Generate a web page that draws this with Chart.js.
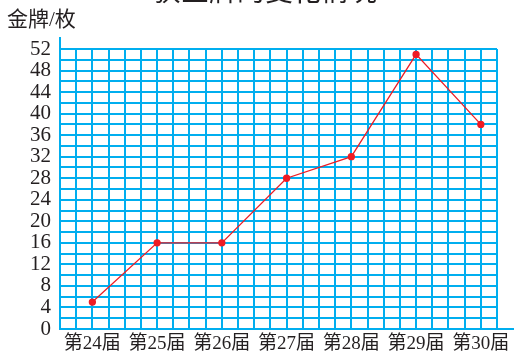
<!DOCTYPE html>
<html>
<head>
<meta charset="utf-8">
<script src="https://cdn.jsdelivr.net/npm/chart.js@4"></script>
<style>
  html, body { margin: 0; padding: 0; background: #fff; }
  #wrap { width: 514px; height: 357px; position: relative; }
</style>
</head>
<body>
<div id="wrap"><canvas id="chart"></canvas></div>
<script>
// data
const sessions = ['第24届', '第25届', '第26届', '第27届', '第28届', '第29届', '第30届'];
const golds = [5, 16, 16, 28, 32, 51, 38];
const sessionPos = [2, 6, 10, 14, 18, 22, 26]; // grid column of each session
const yTicks = [0, 4, 8, 12, 16, 20, 24, 28, 32, 36, 40, 44, 48, 52];

const titleText = '获金牌的变化情况';
const yTitle = '金牌/枚';

const blue = '#00aeef';
const red = '#ee1c25';
const fontFam = '"Liberation Serif", "Noto Sans CJK SC", serif';

const points = sessionPos.map((x, i) => ({ x: x, y: golds[i] }));

// extra text and axis lines that stick out of the grid
const extras = {
    id: 'extras',
    afterDraw(chart) {
        const ctx = chart.ctx;
        const area = chart.chartArea;
        ctx.save();
        ctx.strokeStyle = blue;
        ctx.lineWidth = 2;
        ctx.beginPath();
        ctx.moveTo(area.left, 37);
        ctx.lineTo(area.left, area.bottom);
        ctx.lineTo(514, area.bottom);
        ctx.stroke();

        ctx.fillStyle = '#231f20';
        ctx.textAlign = 'center';
        ctx.textBaseline = 'bottom';
        ctx.font = '28px ' + fontFam;
        ctx.fillText(titleText, 265, 8);

        ctx.textAlign = 'left';
        ctx.textBaseline = 'middle';
        ctx.font = '21px ' + fontFam;
        ctx.fillText(yTitle, 7, 20);
        ctx.restore();
    }
};

new Chart(document.getElementById('chart'), {
    type: 'line',
    data: {
        datasets: [{
            data: points,
            borderColor: red,
            borderWidth: 1.3,
            pointBackgroundColor: red,
            pointBorderColor: red,
            pointRadius: 3,
            tension: 0
        }]
    },
    options: {
        responsive: true,
        maintainAspectRatio: false,
        animation: false,
        layout: { padding: { top: 49, right: 17, left: 0, bottom: 0 } },
        plugins: {
            legend: { display: false },
            tooltip: { enabled: false }
        },
        scales: {
            x: {
                type: 'linear',
                min: 0,
                max: 27,
                afterFit(scale) { scale.height = 28; },
                afterBuildTicks(scale) {
                    const t = [];
                    for (let i = 0; i <= 27; i++) t.push({ value: i });
                    scale.ticks = t;
                },
                grid: { color: blue, lineWidth: 2, drawTicks: false },
                border: { display: false },
                ticks: {
                    autoSkip: false,
                    maxRotation: 0,
                    padding: 4,
                    color: '#231f20',
                    font: { family: fontFam, size: 19 },
                    callback(v) {
                        const k = sessionPos.indexOf(v);
                        return k >= 0 ? sessions[k] : '';
                    }
                }
            },
            y: {
                min: 0,
                max: 52,
                afterFit(scale) { scale.width = 60; },
                afterBuildTicks(scale) {
                    const t = [];
                    for (let v = 0; v <= 52; v += 2) t.push({ value: v });
                    scale.ticks = t;
                },
                grid: { color: blue, lineWidth: 2, drawTicks: false },
                border: { display: false },
                ticks: {
                    autoSkip: false,
                    padding: 9,
                    color: '#231f20',
                    font: { family: fontFam, size: 21 },
                    callback(v) {
                        return yTicks.includes(v) ? String(v) : '';
                    }
                }
            }
        }
    },
    plugins: [extras]
});
</script>
</body>
</html>
